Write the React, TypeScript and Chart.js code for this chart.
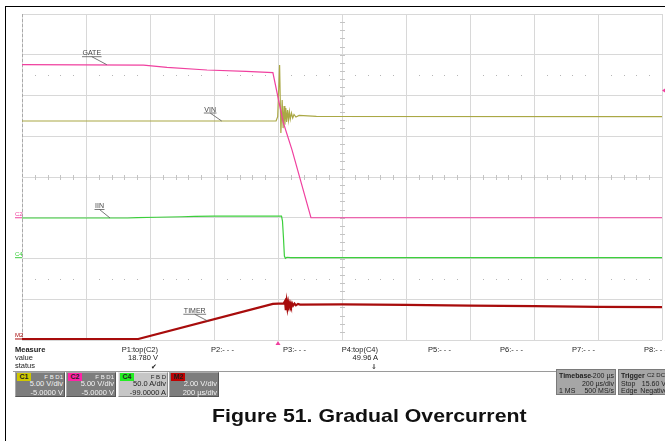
import React, { useEffect, useRef } from 'react';
import { Chart, registerables } from 'chart.js';

Chart.register(...registerables);

// ---------- data (time in µs relative to trigger) ----------
const TIME_MIN = -800;
const TIME_MAX = 1200;
const TIME_STEP = 200; // 200 µs/div

// C2 GATE (V)
const gateTime = [-800, -420, -347, -222, -100, -16, 16, 44, 103, 1200];
const gateVolts = [18.78, 18.72, 18.46, 18.13, 17.95, 17.8, 11.75, 8.3, 0, 0];

// C1 VIN (V)
const vinTime = [-800, -6, -1, 5, 9, 13, 16, 19, 21.5, 24.4, 27, 30, 32.8, 35.6, 38.4, 42, 46, 50, 56, 66, 120, 1200];
const vinVolts = [11.87, 11.87, 12.4, 18.74, 10.4, 14.45, 11.0, 13.7, 11.4, 13.45, 11.75, 13.2, 12.0, 13.0, 12.1, 12.85, 12.24, 12.67, 12.36, 12.55, 12.45, 12.42];

// C4 IIN (A)
const iinTime = [-800, -470, -440, -380, -300, -260, -200, -10, 11, 14, 17, 20, 23, 28, 40, 1200];
const iinAmps = [48.7, 48.7, 49.2, 49.6, 50.2, 50.8, 51.0, 50.9, 50.9, 45, 25, 2, -0.8, 0.5, 0, 0];

// M2 TIMER (V)
const timerTime = [-800, -437, -16, 18, 22, 24.4, 27, 29.4, 31.9, 34.4, 37.5, 40.6, 43.75, 47, 51.5, 56, 62.5, 69, 200, 400, 600, 800, 1000, 1200];
const timerVolts = [0, 0, 1.72, 1.75, 1.86, 1.42, 1.82, 1.52, 1.79, 1.58, 1.77, 1.61, 1.75, 1.63, 1.74, 1.65, 1.72, 1.69, 1.7, 1.67, 1.64, 1.61, 1.58, 1.56];

const TRIGGER_LEVEL = 15.6; // V on C2

// measurement / descriptor text
const measureLabels = ['P1:top(C2)', 'P2:- - -', 'P3:- - -', 'P4:top(C4)', 'P5:- - -', 'P6:- - -', 'P7:- - -', 'P8:- - -'];
const measureValues = ['18.780 V', '', '', '49.96 A', '', '', '', ''];
const measureStatus = ['✔', '', '', '⇓', '', '', '', ''];

const channelNames = ['C1', 'C2', 'C4', 'M2'];
const channelFlags = ['F B D1', 'F B D1', 'F B D', ''];
const channelScales = ['5.00 V/div', '5.00 V/div', '50.0 A/div', '2.00 V/div'];
const channelOffsets = ['-5.0000 V', '-5.0000 V', '-99.0000 A', '200 µs/div'];

const COL_VIN = '#aaa845';
const COL_GATE = '#f0409f';
const COL_IIN = '#3ccf3c';
const COL_TIMER = '#a80c0c';
const tagColors = ['#cfc800', '#ff22a6', '#22ee22', '#c00000'];

const FONT = '"Liberation Sans", Arial, sans-serif';

const pts = (t: number[], v: number[]) => t.map((x, i) => ({ x, y: v[i] }));

const scopePlugin = {
  id: 'scope',
  beforeDatasetsDraw(chart: any) {
    const { ctx, chartArea: a, scales } = chart;
    const xs = scales.x;
    const yg = scales.yg;
    const cx = Math.round(xs.getPixelForValue((TIME_MIN + TIME_MAX) / 2)) + 0.5;
    const cy = Math.round(yg.getPixelForValue(0)) + 0.5;
    const divW = (a.right - a.left) / 10;
    const divH = (a.bottom - a.top) / 8;
    ctx.save();
    ctx.strokeStyle = '#c4c4c4';
    ctx.lineWidth = 1;
    ctx.beginPath();
    for (let i = 1; i < 50; i++) {
      const px = Math.round(a.left + (i * divW) / 5) + 0.5;
      ctx.moveTo(px, cy - 2.5);
      ctx.lineTo(px, cy + 2.5);
    }
    for (let j = 1; j < 40; j++) {
      const py = Math.round(a.top + (j * divH) / 5) + 0.5;
      ctx.moveTo(cx - 2.5, py);
      ctx.lineTo(cx + 2.5, py);
    }
    ctx.stroke();
    // dashed left edge
    ctx.strokeStyle = '#a9a9a9';
    ctx.setLineDash([3, 2]);
    ctx.beginPath();
    ctx.moveTo(Math.round(a.left) + 0.5, a.top);
    ctx.lineTo(Math.round(a.left) + 0.5, a.bottom);
    ctx.stroke();
    ctx.setLineDash([]);
    // dotted lines at +/-2.5 div
    ctx.fillStyle = '#b5b5b5';
    for (const d of [-2.5, 2.5]) {
      const py = Math.round(yg.getPixelForValue(d));
      for (let i = 1; i < 50; i++) {
        if (i % 5 === 0) continue;
        const px = Math.round(a.left + (i * divW) / 5);
        ctx.fillRect(px, py, 1, 1);
      }
    }
    ctx.restore();
  },
  afterDatasetsDraw(chart: any) {
    const { ctx, chartArea: a, scales } = chart;
    const xs = scales.x;
    ctx.save();
    // trace labels with leader lines
    const labels = [
      { text: 'GATE', t: -535, v: 18.78, axis: 'yC2', dx: -15, dy: -8 },
      { text: 'VIN', t: -176, v: 11.87, axis: 'yC1', dx: -11.5, dy: -8 },
      { text: 'IIN', t: -525, v: 48.7, axis: 'yC4', dx: -10.5, dy: -8.5 },
      { text: 'TIMER', t: -218, v: 0.87, axis: 'yM2', dx: -13.5, dy: -7 },
    ];
    ctx.font = `7px ${FONT}`;
    ctx.textAlign = 'center';
    ctx.textBaseline = 'alphabetic';
    for (const l of labels) {
      const ex = xs.getPixelForValue(l.t);
      const ey = scales[l.axis].getPixelForValue(l.v);
      const sx = ex + l.dx;
      const sy = ey + l.dy;
      ctx.strokeStyle = '#555';
      ctx.lineWidth = 0.8;
      ctx.beginPath();
      ctx.moveTo(sx, sy);
      ctx.lineTo(ex, ey);
      const w = ctx.measureText(l.text).width;
      ctx.moveTo(sx - w / 2 - 0.5, sy);
      ctx.lineTo(sx + w / 2 + 0.5, sy);
      ctx.stroke();
      ctx.fillStyle = '#444';
      ctx.fillText(l.text, sx, sy - 1.5);
    }
    // channel ground markers on the left
    const markers = [
      { text: 'C2', axis: 'yC2', color: COL_GATE },
      { text: 'C4', axis: 'yC4', color: COL_IIN },
      { text: 'M2', axis: 'yM2', color: COL_TIMER },
    ];
    ctx.font = `6px ${FONT}`;
    ctx.textAlign = 'left';
    for (const m of markers) {
      const py = scales[m.axis].getPixelForValue(0);
      ctx.fillStyle = m.color;
      ctx.fillText(m.text, a.left - 7, py - 1.5);
      ctx.fillRect(a.left - 7, py - 0.5, 7, 1);
    }
    // trigger position marker
    const tx = xs.getPixelForValue(0);
    ctx.fillStyle = '#f0409f';
    ctx.beginPath();
    ctx.moveTo(tx, a.bottom + 1);
    ctx.lineTo(tx - 2.5, a.bottom + 5);
    ctx.lineTo(tx + 2.5, a.bottom + 5);
    ctx.closePath();
    ctx.fill();
    // trigger level marker
    const ty = scales.yC2.getPixelForValue(TRIGGER_LEVEL);
    ctx.beginPath();
    ctx.moveTo(a.right, ty);
    ctx.lineTo(a.right + 3, ty - 2);
    ctx.lineTo(a.right + 3, ty + 2);
    ctx.closePath();
    ctx.fill();
    ctx.restore();
  },
};

function Txt(props: { x: number; y: number; children: any; align?: 'left' | 'right' | 'center'; bold?: boolean; size?: number; color?: string; sx?: number }) {
  const { x, y, children, align = 'left', bold = false, size = 7.5, color = '#222', sx = 1 } = props;
  const tx = align === 'left' ? '0' : align === 'right' ? '-100%' : '-50%';
  return (
    <div
      style={{
        position: 'absolute',
        left: x,
        top: y,
        transform: `translate(${tx}, -50%)${sx !== 1 ? ` scaleX(${sx})` : ''}`,
        transformOrigin: 'left center',
        whiteSpace: 'nowrap',
        fontFamily: FONT,
        fontSize: size,
        fontWeight: bold ? 700 : 400,
        color,
        lineHeight: 1,
      }}
    >
      {children}
    </div>
  );
}

export default function App() {
  const canvasRef = useRef<HTMLCanvasElement | null>(null);

  useEffect(() => {
    if (!canvasRef.current) return;
    const gridStyle = { color: '#d8d8d8', drawTicks: false, lineWidth: 1 };
    const chart = new Chart(canvasRef.current, {
      type: 'line',
      data: {
        datasets: [
          { label: 'GATE', data: pts(gateTime, gateVolts), yAxisID: 'yC2', borderColor: COL_GATE, borderWidth: 1.2 },
          { label: 'VIN', data: pts(vinTime, vinVolts), yAxisID: 'yC1', borderColor: COL_VIN, borderWidth: 1.2 },
          { label: 'IIN', data: pts(iinTime, iinAmps), yAxisID: 'yC4', borderColor: COL_IIN, borderWidth: 1.2 },
          { label: 'TIMER', data: pts(timerTime, timerVolts), yAxisID: 'yM2', borderColor: COL_TIMER, borderWidth: 2.2 },
        ],
      },
      options: {
        responsive: false,
        animation: false,
        events: [],
        elements: { point: { radius: 0 }, line: { tension: 0, fill: false } },
        plugins: { legend: { display: false }, tooltip: { enabled: false } },
        layout: { padding: { left: 22, top: 14, right: 3, bottom: 101 } },
        scales: {
          x: {
            type: 'linear',
            min: TIME_MIN,
            max: TIME_MAX,
            ticks: { stepSize: TIME_STEP, display: false },
            grid: gridStyle,
            border: { display: false },
          },
          yg: {
            type: 'linear',
            position: 'left',
            min: -4,
            max: 4,
            ticks: { stepSize: 1, display: false },
            grid: gridStyle,
            border: { display: false },
          },
          yC1: { type: 'linear', display: false, min: -15, max: 25 },
          yC2: { type: 'linear', display: false, min: -15, max: 25 },
          yC4: { type: 'linear', display: false, min: -101, max: 299 },
          yM2: { type: 'linear', display: false, min: -0.05, max: 15.95 },
        },
      },
      plugins: [scopePlugin],
    } as any);
    return () => chart.destroy();
  }, []);

  const colX = [158, 211, 283, 378, 428, 500, 572, 644];
  const colAlign: ('left' | 'right')[] = ['right', 'left', 'left', 'right', 'left', 'left', 'left', 'left'];

  return (
    <div style={{ position: 'absolute', left: 0, top: 0, width: 665, height: 441, overflow: 'hidden', background: '#fff' }}>
      <canvas ref={canvasRef} width={665} height={441} style={{ position: 'absolute', left: 0, top: 0, display: 'block' }} />
      {/* outer frame */}
      <div style={{ position: 'absolute', left: 5, top: 6, width: 670, height: 1, background: '#000' }} />
      <div style={{ position: 'absolute', left: 5, top: 6, width: 1, height: 440, background: '#000' }} />

      {/* measure table */}
      <Txt x={15} y={350} bold>Measure</Txt>
      <Txt x={15} y={358}>value</Txt>
      <Txt x={15} y={366}>status</Txt>
      {measureLabels.map((m, i) => (
        <React.Fragment key={m + i}>
          <Txt x={colX[i]} y={350} align={colAlign[i]}>{m}</Txt>
          {measureValues[i] && <Txt x={colX[i]} y={358} align="right">{measureValues[i]}</Txt>}
          {measureStatus[i] && <Txt x={colX[i] - 4} y={366} align="center" size={7}>{measureStatus[i]}</Txt>}
        </React.Fragment>
      ))}
      <div style={{ position: 'absolute', left: 13, top: 371, width: 543, height: 1, background: '#9a9a9a' }} />

      {/* channel descriptor boxes */}
      {channelNames.map((n, i) => {
        const left = Math.round(15 + i * 51.3);
        const sel = n === 'C4';
        const tc = sel ? '#222' : '#f2f2f2';
        return (
          <div
            key={n}
            style={{
              position: 'absolute',
              left,
              top: 372,
              width: 50,
              height: 25,
              boxSizing: 'border-box',
              background: sel ? '#c6c6c6' : '#7d7d7d',
              border: '1px solid',
              borderColor: sel ? '#e8e8e8 #8a8a8a #8a8a8a #e8e8e8' : '#a8a8a8 #555 #555 #a8a8a8',
            }}
          >
            <div
              style={{
                position: 'absolute',
                left: 1,
                top: 0,
                width: 14,
                height: 8,
                background: tagColors[i],
                fontFamily: FONT,
                fontSize: 7,
                fontWeight: 700,
                lineHeight: '8px',
                textAlign: 'center',
                color: '#222',
              }}
            >
              {n}
            </div>
            {channelFlags[i] && (
              <Txt x={47} y={4} align="right" size={6} color={tc}>{channelFlags[i]}</Txt>
            )}
            <Txt x={47} y={11} align="right" size={7.5} color={tc}>{channelScales[i]}</Txt>
            <Txt x={47} y={19.5} align="right" size={7.5} color={tc}>{channelOffsets[i]}</Txt>
          </div>
        );
      })}

      {/* timebase & trigger */}
      <div style={{ position: 'absolute', left: 556, top: 369, width: 60, height: 26, boxSizing: 'border-box', background: '#a6a6a6', border: '1px solid #7a7a7a' }}>
        <Txt x={2} y={5} bold size={7}>Timebase</Txt>
        <Txt x={57} y={5} align="right" size={7}>-200 µs</Txt>
        <Txt x={57} y={12.5} align="right" size={7}>200 µs/div</Txt>
        <Txt x={2} y={20} size={7}>1 MS</Txt>
        <Txt x={57} y={20} align="right" size={7}>500 MS/s</Txt>
      </div>
      <div style={{ position: 'absolute', left: 618, top: 369, width: 52, height: 26, boxSizing: 'border-box', background: '#a6a6a6', border: '1px solid #7a7a7a' }}>
        <Txt x={2} y={5} bold size={7}>Trigger</Txt>
        <Txt x={46} y={5} align="right" size={6}>C2 DC</Txt>
        <Txt x={2} y={12.5} size={7}>Stop</Txt>
        <Txt x={47} y={12.5} align="right" size={7}>15.60 V</Txt>
        <Txt x={2} y={20} size={7}>Edge</Txt>
        <Txt x={49} y={20} align="right" size={7}>Negative</Txt>
      </div>

      {/* caption */}
      <Txt x={212} y={415} bold size={19} color="#111" sx={1.12}>Figure 51. Gradual Overcurrent</Txt>
    </div>
  );
}
